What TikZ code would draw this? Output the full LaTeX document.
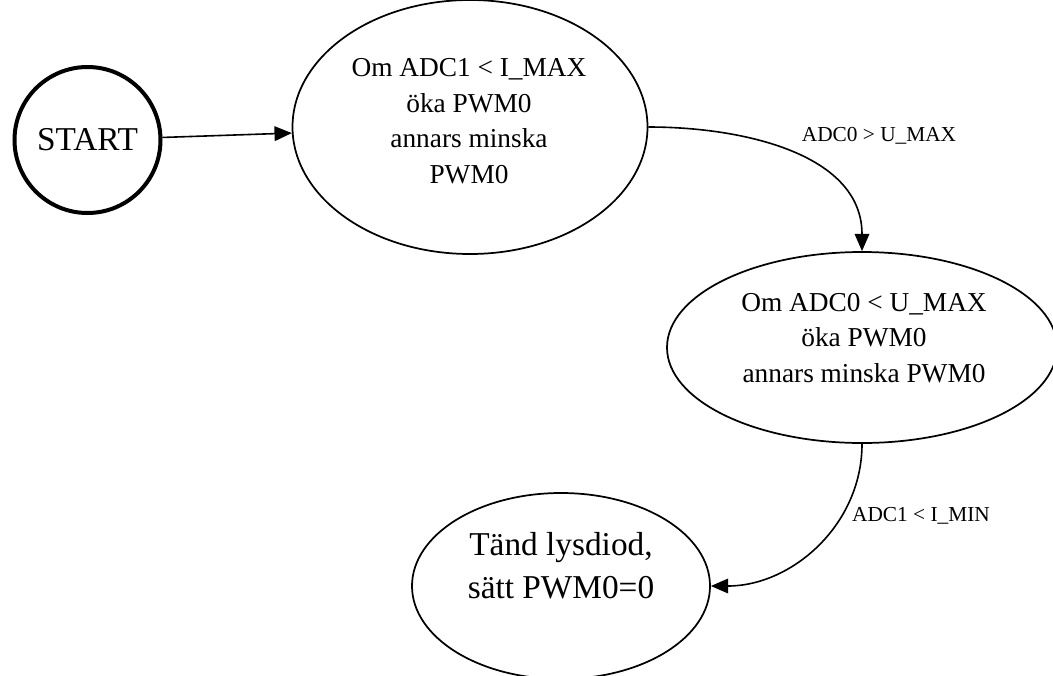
\documentclass[tikz,border=0pt]{standalone}
\usepackage{fontspec}
\setmainfont{Liberation Serif}
\usetikzlibrary{shapes.geometric,arrows.meta}
\newcommand{\px}{0.75pt}
\newcommand{\startnode}{\node[shape = circle, draw = black, line width = 3pt, minimum size = 146*\px, inner sep = 0pt, font = \fontsize{25}{29}\selectfont]}
\newcommand{\ovalnode}{\node[shape = ellipse, draw = black, line width = 1.3pt, inner sep = 0pt]}
\newcommand{\ovaltext}{\node[align = center, inner sep = 0pt]}
\newcommand{\edgetext}{\node[inner sep = 0pt, font = \fontsize{16}{19}\selectfont]}

\begin{document}
\begin{tikzpicture}[x = \px, y = -\px, line width = 1.2pt, > = {Triangle[length = 13pt, width = 11pt]}]
					\useasboundingbox (0,0) rectangle (1053,675);
					\startnode (start) at (87.5,140) {START};
					\ovalnode[minimum width = 355*\px, minimum height = 254*\px] (regi) at (470,127) {};
					\ovalnode[minimum width = 390*\px, minimum height = 191*\px] (regu) at (862,347.5) {};
					\ovalnode[minimum width = 298*\px, minimum height = 186*\px] (led) at (561,586) {};
					\ovaltext[font = \fontsize{20.5}{26.6}\selectfont] (regitext) at (469,121) {Om ADC1 < I\_MAX\\öka PWM0\\annars minska\\PWM0};
					\ovaltext[font = \fontsize{20.5}{26.6}\selectfont] (regutext) at (864,338) {Om ADC0 < U\_MAX\\öka PWM0\\annars minska PWM0};
					\ovaltext[font = \fontsize{25}{32}\selectfont] (ledtext) at (561,566) {Tänd lysdiod,\\sätt PWM0=0};
					\edgetext (umax) at (879,136) {ADC0 > U\_MAX};
					\edgetext (imin) at (921,516) {ADC1 < I\_MIN};
					\path[->] (start) edge (regi);
					\path[->] (regi.east) edge[out = 0, in = 90] (regu.north);
					\path[->] (regu.south) edge[out = -90, in = 0] (led.east);
				\end{tikzpicture}
\end{document}
